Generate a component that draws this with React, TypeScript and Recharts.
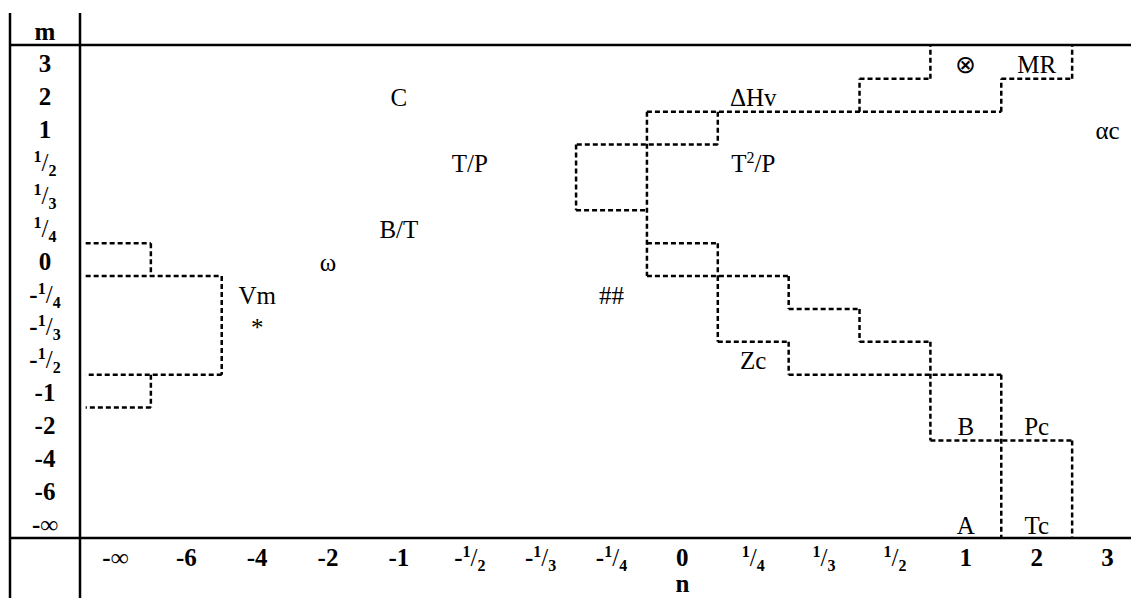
import React from 'react';
import { ScatterChart, Scatter, XAxis, YAxis, ReferenceLine, Customized } from 'recharts';

// column / row headings (n across, m down)
const nLabels = ['-∞', '-6', '-4', '-2', '-1', '-1/2', '-1/3', '-1/4', '0', '1/4', '1/3', '1/2', '1', '2', '3'];
const mLabels = ['3', '2', '1', '1/2', '1/3', '1/4', '0', '-1/4', '-1/3', '-1/2', '-1', '-2', '-4', '-6', '-∞'];

// properties placed in the (n, m) table
const cellText = ['C', 'T/P', 'B/T', 'ω', 'Vm', '*', '##', 'ΔHv', 'T^2/P', 'Zc', '⊗', 'MR', 'αc', 'B', 'Pc', 'A', 'Tc'];
const cellN = ['-1', '-1/2', '-1', '-2', '-4', '-4', '-1/4', '1/4', '1/4', '1/4', '1', '2', '3', '1', '2', '1', '2'];
const cellM = ['2', '1/2', '1/4', '0', '-1/4', '-1/3', '-1/4', '2', '1/2', '-1/2', '3', '3', '1', '-2', '-2', '-∞', '-∞'];

// dashed region borders, as [column edge, row edge] points
const borders: number[][][] = [
  [[0.08, 6], [1, 6], [1, 7]],
  [[0.08, 7], [2, 7], [2, 10], [0.08, 10]],
  [[1, 10], [1, 11], [0.08, 11]],
  [[8, 2], [13, 2]],
  [[11, 2], [11, 1], [12, 1], [12, 0]],
  [[13, 2], [13, 1], [14, 1], [14, 0]],
  [[9, 2], [9, 3], [7, 3], [7, 5], [8, 5]],
  [[8, 2], [8, 7]],
  [[8, 6], [9, 6], [9, 7]],
  [[8, 7], [10, 7], [10, 8], [11, 8], [11, 9], [12, 9], [12, 12], [14, 12], [14, 15]],
  [[9, 7], [9, 9], [10, 9], [10, 10], [13, 10], [13, 15]],
];

const FONT = '"Liberation Serif", "Times New Roman", serif';
const SIZE = 25;
const SMALL = 16;

const cells = cellText.map((t, i) => ({
  x: nLabels.indexOf(cellN[i]) + 0.5,
  y: mLabels.indexOf(cellM[i]) + 0.5,
  text: t,
}));

const segments: { x1: number; y1: number; x2: number; y2: number }[] = [];
borders.forEach((path) => {
  for (let i = 1; i < path.length; i++) {
    segments.push({ x1: path[i - 1][0], y1: path[i - 1][1], x2: path[i][0], y2: path[i][1] });
  }
});

const centers = nLabels.map((_, i) => i + 0.5);

const FracLabel = ({ x, y, text }: { x: number; y: number; text: string }) => {
  const m = text.match(/^(-?)(\d)\/(\d)$/);
  if (!m) {
    return (
      <text x={x} y={y} textAnchor="middle" fontFamily={FONT} fontWeight="bold" fontSize={SIZE} fill="#000">
        {text}
      </text>
    );
  }
  return (
    <text x={x} y={y} textAnchor="middle" fontFamily={FONT} fontWeight="bold" fontSize={SIZE} fill="#000">
      {m[1]}
      <tspan fontSize={SMALL} dy={-9}>{m[2]}</tspan>
      <tspan fontWeight="normal" dy={9}>/</tspan>
      <tspan fontSize={SMALL} dy={5}>{m[3]}</tspan>
    </text>
  );
};

const XTick = (props: any) => {
  const { x, y, payload } = props;
  const label = nLabels[Math.floor(payload.value)];
  return (
    <g>
      <FracLabel x={x} y={y + 27} text={label} />
      {label === '0' && (
        <text x={x} y={y + 53} textAnchor="middle" fontFamily={FONT} fontWeight="bold" fontSize={SIZE} fill="#000">
          n
        </text>
      )}
    </g>
  );
};

const YTick = (props: any) => {
  const { x, y, payload } = props;
  return <FracLabel x={x - 35} y={y + 10} text={mLabels[Math.floor(payload.value)]} />;
};

const CellText = (props: any) => {
  const { cx, cy, payload } = props;
  const t: string = payload.text;
  if (t.includes('^')) {
    const [base, rest] = t.split('^');
    return (
      <text x={cx} y={cy + 11} textAnchor="middle" fontFamily={FONT} fontSize={SIZE} fill="#000">
        {base}
        <tspan fontSize={SMALL} dy={-9}>{rest[0]}</tspan>
        <tspan dy={9}>{rest.slice(1)}</tspan>
      </text>
    );
  }
  return (
    <text x={cx} y={cy + 11} textAnchor="middle" fontFamily={FONT} fontSize={SIZE} fill="#000">
      {t}
    </text>
  );
};

const Frame = () => (
  <g stroke="#000" strokeWidth={2.5}>
    <line x1={10} y1={13} x2={10} y2={598} />
    <line x1={80} y1={13} x2={80} y2={598} />
    <line x1={10} y1={45} x2={1131} y2={45} />
    <line x1={10} y1={538} x2={1131} y2={538} />
    <text x={45} y={40} textAnchor="middle" stroke="none" fontFamily={FONT} fontWeight="bold" fontSize={SIZE} fill="#000">
      m
    </text>
  </g>
);

export default function App() {
  return (
    <div style={{ position: 'absolute', left: 0, top: 0, width: 1131, height: 598, overflow: 'hidden', background: '#fff' }}>
      <ScatterChart width={1150} height={598} margin={{ top: 46, right: 7, left: 10, bottom: 0 }}>
        <XAxis
          type="number"
          dataKey="x"
          domain={[0, 15]}
          ticks={centers}
          axisLine={false}
          tickLine={false}
          tickSize={0}
          tickMargin={0}
          height={59}
          interval={0}
          tick={<XTick />}
        />
        <YAxis
          type="number"
          dataKey="y"
          domain={[0, 15]}
          reversed
          ticks={centers}
          axisLine={false}
          tickLine={false}
          tickSize={0}
          tickMargin={0}
          width={70}
          interval={0}
          tick={<YTick />}
        />
        {segments.map((s, i) => (
          <ReferenceLine
            key={i}
            segment={[{ x: s.x1, y: s.y1 }, { x: s.x2, y: s.y2 }]}
            stroke="#000"
            strokeWidth={2.5}
            strokeDasharray="5 3"
            ifOverflow="visible"
          />
        ))}
        <Scatter data={cells} shape={<CellText />} isAnimationActive={false} />
        <Customized component={<Frame />} />
      </ScatterChart>
    </div>
  );
}
